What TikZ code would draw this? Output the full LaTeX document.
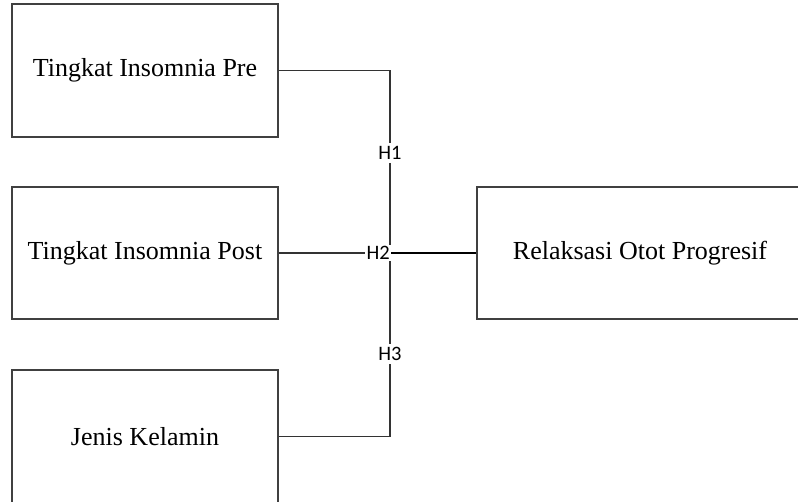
\documentclass[tikz,border=0pt]{standalone}
\usepackage{fontspec}
\setmainfont{Liberation Serif}
\newfontfamily\hfont{Carlito}
\begin{document}
\begin{tikzpicture}[x=1pt,y=-1pt,
  box/.style={draw=black!75,line width=1.4pt,minimum width=266pt,inner sep=0pt,
    font=\fontsize{26}{30}\selectfont},
  hlabel/.style={font=\hfont\fontsize{20.5}{24}\selectfont,inner sep=3pt},
  conn/.style={draw=black!80,line width=1.2pt},
  thick conn/.style={draw=black,line width=2pt}]
\useasboundingbox (0,0) rectangle (798,501);
\node[box,minimum height=133pt] (b1) at (145,70.5) {Tingkat Insomnia Pre};
\node[box,minimum height=132pt] (b2) at (145,253) {Tingkat Insomnia Post};
\node[box,minimum height=133pt] (b3) at (145,436.5) {Jenis Kelamin};
\node[box,minimum height=132pt,minimum width=326pt] (b4) at (640,253) {Relaksasi Otot Progresif};
\node[hlabel] (h1) at (390,153) {H1};
\node[hlabel] (h3) at (390,354) {H3};
\coordinate (j) at (390,253);
\draw[conn] (b1.east) -| (h1);
\draw[conn] (h1) -- (h3);
\draw[conn] (b3.east) -| (h3);
\draw[thick conn] (j) -- (b4.west);
\node[hlabel,anchor=east,inner sep=1pt,fill=white] (h2) at (391,253) {H2};
\draw[conn] (b2.east) -- (h2.west);
\end{tikzpicture}
\end{document}
